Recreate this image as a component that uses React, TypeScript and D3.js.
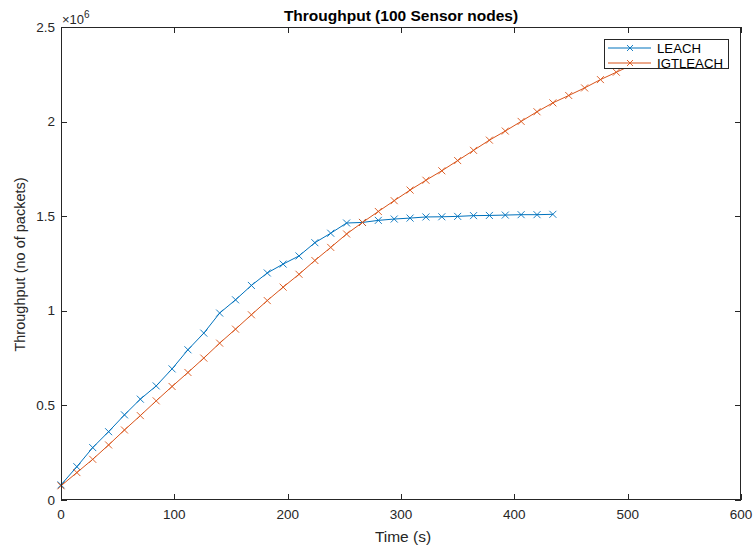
import React, { useEffect, useRef } from 'react';
import * as d3 from 'd3';

// time step between samples (s)
const timeStep = 14;

// throughput values in units of 1e6 packets
const leachValues = [
  0.08, 0.176, 0.277, 0.361, 0.45, 0.533, 0.603, 0.693, 0.794, 0.882, 0.988,
  1.058, 1.134, 1.2, 1.247, 1.29, 1.36, 1.41, 1.464, 1.467, 1.478, 1.485,
  1.49, 1.496, 1.497, 1.499, 1.503, 1.504, 1.506, 1.508, 1.508, 1.51,
];

const igtleachValues = [
  0.075, 0.145, 0.215, 0.291, 0.37, 0.446, 0.524, 0.6, 0.674, 0.75, 0.829,
  0.903, 0.979, 1.054, 1.125, 1.193, 1.266, 1.335, 1.406, 1.467, 1.525,
  1.582, 1.638, 1.69, 1.74, 1.794, 1.848, 1.902, 1.95, 2.001, 2.052, 2.099,
  2.138, 2.178, 2.222, 2.261, 2.3,
];

const xTicks = [0, 100, 200, 300, 400, 500, 600];
const yTicks = [0, 0.5, 1, 1.5, 2, 2.5];

const seriesNames = ['LEACH', 'IGTLEACH'];
const seriesColors = ['#0072BD', '#D95319'];

const W = 756;
const H = 548;

const App = () => {
  const svgRef = useRef<SVGSVGElement>(null);

  useEffect(() => {
    const svg = d3.select(svgRef.current);
    svg.selectAll('*').remove();

    const left = 61;
    const right = 741;
    const top = 27;
    const bottom = 500;
    const font = '"Liberation Sans", Arial, Helvetica, sans-serif';
    const axisColor = '#262626';

    const x = d3.scaleLinear().domain([0, 600]).range([left, right]);
    const y = d3.scaleLinear().domain([0, 2.5]).range([bottom, top]);

    svg.append('rect').attr('width', W).attr('height', H).attr('fill', '#fff');

    const series = [leachValues, igtleachValues].map((vals, i) => ({
      name: seriesNames[i],
      color: seriesColors[i],
      points: vals.map((v, k) => [k * timeStep, v] as [number, number]),
    }));

    const line = d3.line<[number, number]>()
      .x(d => x(d[0]))
      .y(d => y(d[1]));

    const cross = (cx: number, cy: number, r = 3.5) =>
      `M${cx - r},${cy - r}L${cx + r},${cy + r}M${cx - r},${cy + r}L${cx + r},${cy - r}`;

    const plot = svg.append('g');
    series.forEach(s => {
      plot.append('path')
        .attr('d', line(s.points))
        .attr('fill', 'none')
        .attr('stroke', s.color)
        .attr('stroke-width', 1);
      plot.append('path')
        .attr('d', s.points.map(p => cross(x(p[0]), y(p[1]))).join(''))
        .attr('fill', 'none')
        .attr('stroke', s.color)
        .attr('stroke-width', 0.9);
    });

    // axes box with inward ticks
    const axes = svg.append('g').attr('stroke', axisColor).attr('stroke-width', 1).attr('fill', 'none');
    axes.append('rect')
      .attr('x', left + 0.5)
      .attr('y', top + 0.5)
      .attr('width', right - left - 1)
      .attr('height', bottom - top - 1);

    const tickLen = 6;
    xTicks.forEach(t => {
      const px = Math.round(x(t)) + 0.5;
      axes.append('line').attr('x1', px).attr('x2', px).attr('y1', bottom).attr('y2', bottom - tickLen);
      axes.append('line').attr('x1', px).attr('x2', px).attr('y1', top).attr('y2', top + tickLen);
    });
    yTicks.forEach(t => {
      const py = Math.round(y(t)) + 0.5;
      axes.append('line').attr('x1', left).attr('x2', left + tickLen).attr('y1', py).attr('y2', py);
      axes.append('line').attr('x1', right).attr('x2', right - tickLen).attr('y1', py).attr('y2', py);
    });

    const labels = svg.append('g').attr('font-family', font).attr('fill', axisColor);

    labels.selectAll('.xt')
      .data(xTicks)
      .join('text')
      .attr('x', d => x(d))
      .attr('y', bottom + 19)
      .attr('text-anchor', 'middle')
      .attr('font-size', 13.5)
      .text(d => String(d));

    labels.selectAll('.yt')
      .data(yTicks)
      .join('text')
      .attr('x', left - 6)
      .attr('y', d => y(d) + 4.5)
      .attr('text-anchor', 'end')
      .attr('font-size', 13.5)
      .text(d => String(d));

    // exponent
    const expo = labels.append('text').attr('x', left + 1).attr('y', top - 3).attr('font-size', 13);
    expo.append('tspan').text('×10');
    expo.append('tspan').attr('dy', -6).attr('font-size', 10).text('6');

    labels.append('text')
      .attr('x', (left + right) / 2)
      .attr('y', 21)
      .attr('text-anchor', 'middle')
      .attr('font-size', 15.5)
      .attr('font-weight', 'bold')
      .attr('fill', '#000')
      .text('Throughput (100 Sensor nodes)');

    labels.append('text')
      .attr('x', (left + right) / 2 + 2)
      .attr('y', 542)
      .attr('text-anchor', 'middle')
      .attr('font-size', 15.5)
      .text('Time (s)');

    labels.append('text')
      .attr('transform', `translate(25, ${(top + bottom) / 2 + 1}) rotate(-90)`)
      .attr('text-anchor', 'middle')
      .attr('font-size', 14.5)
      .text('Throughput (no of packets)');

    // legend
    const lg = svg.append('g').attr('transform', 'translate(604, 39)');
    lg.append('rect')
      .attr('x', 0.5)
      .attr('y', 0.5)
      .attr('width', 124)
      .attr('height', 29)
      .attr('fill', '#fff')
      .attr('stroke', axisColor)
      .attr('stroke-width', 1);
    series.forEach((s, i) => {
      const ly = 9 + i * 15;
      lg.append('line')
        .attr('x1', 4).attr('x2', 47)
        .attr('y1', ly).attr('y2', ly)
        .attr('stroke', s.color).attr('stroke-width', 1);
      lg.append('path')
        .attr('d', cross(26, ly, 3))
        .attr('stroke', s.color).attr('stroke-width', 0.9).attr('fill', 'none');
      lg.append('text')
        .attr('x', 53)
        .attr('y', ly + 5)
        .attr('font-family', font)
        .attr('font-size', 13.2)
        .attr('fill', '#000')
        .text(s.name);
    });
  }, []);

  return (
    <svg
      ref={svgRef}
      width={W}
      height={H}
      style={{ position: 'absolute', left: 0, top: 0 }}
    />
  );
};

export default App;
